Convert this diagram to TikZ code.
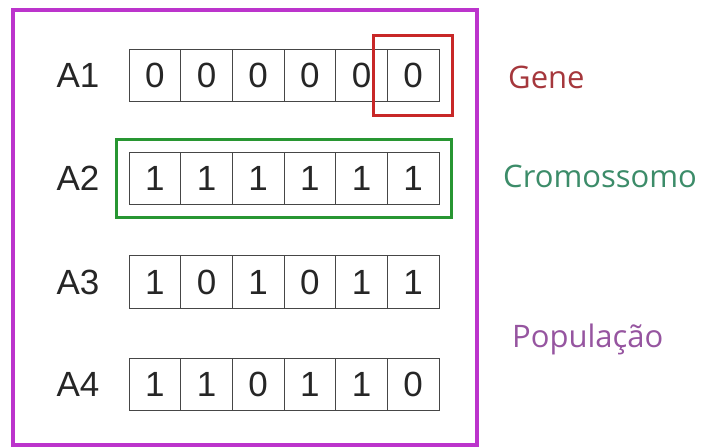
\documentclass[tikz,border=0pt]{standalone}
\usepackage{fontspec}
\setmainfont{Liberation Sans}
\newfontfamily\labelfont{Open Sans}
\usetikzlibrary{fit}
\definecolor{popcol}{RGB}{188,52,204}
\definecolor{genecol}{RGB}{200,40,40}
\definecolor{cromcol}{RGB}{40,150,50}
\definecolor{genetxt}{RGB}{165,55,60}
\definecolor{cromtxt}{RGB}{60,140,105}
\definecolor{poptxt}{RGB}{150,85,160}
\definecolor{cellcol}{RGB}{70,70,70}
\tikzset{
  cellbox/.style={draw=cellcol, line width=0.9pt, minimum width=51.67pt, minimum height=52.5pt,
    inner sep=0pt, font=\fontsize{35}{35}\selectfont, text=black!85},
  rowlabel/.style={font=\fontsize{35}{35}\selectfont, text=black!85, inner sep=0pt},
  sidelabel/.style={font=\labelfont\fontsize{31}{31}\selectfont, anchor=base west, inner sep=0pt},
  genebox/.style={draw=genecol, line width=3pt, inner sep=13.5pt},
  cromobox/.style={draw=cromcol, line width=3pt, inner sep=12.5pt},
  popbox/.style={draw=popcol, line width=3.5pt, inner sep=0pt}
}
\begin{document}
\begin{tikzpicture}[x=1pt,y=-1pt]
\useasboundingbox (0,0) rectangle (702,447);
\node[popbox, minimum width=464pt, minimum height=435pt] (pop) at (245,227.5) {};
\foreach \r/\yy/\bits in {1/75.5/{0,0,0,0,0,0},2/178.5/{1,1,1,1,1,1},3/282/{1,0,1,0,1,1},4/384.5/{1,1,0,1,1,0}}{
  \node[rowlabel] (a\r) at (78,\yy) {A\r};
  \foreach \b [count=\c] in \bits {
    \node[cellbox] (c\r\c) at (129+51.67*\c-25.83,\yy) {\b};
  }
}
\node[genebox, fit=(c16)] (gene) {};
\node[cromobox, fit=(c21) (c26)] (crom) {};
\node[sidelabel, text=genetxt] (lgene) at (508,88) {Gene};
\node[sidelabel, text=cromtxt] (lcrom) at (503,187) {Cromossomo};
\node[sidelabel, text=poptxt] (lpop) at (512,347) {População};
\end{tikzpicture}
\end{document}
